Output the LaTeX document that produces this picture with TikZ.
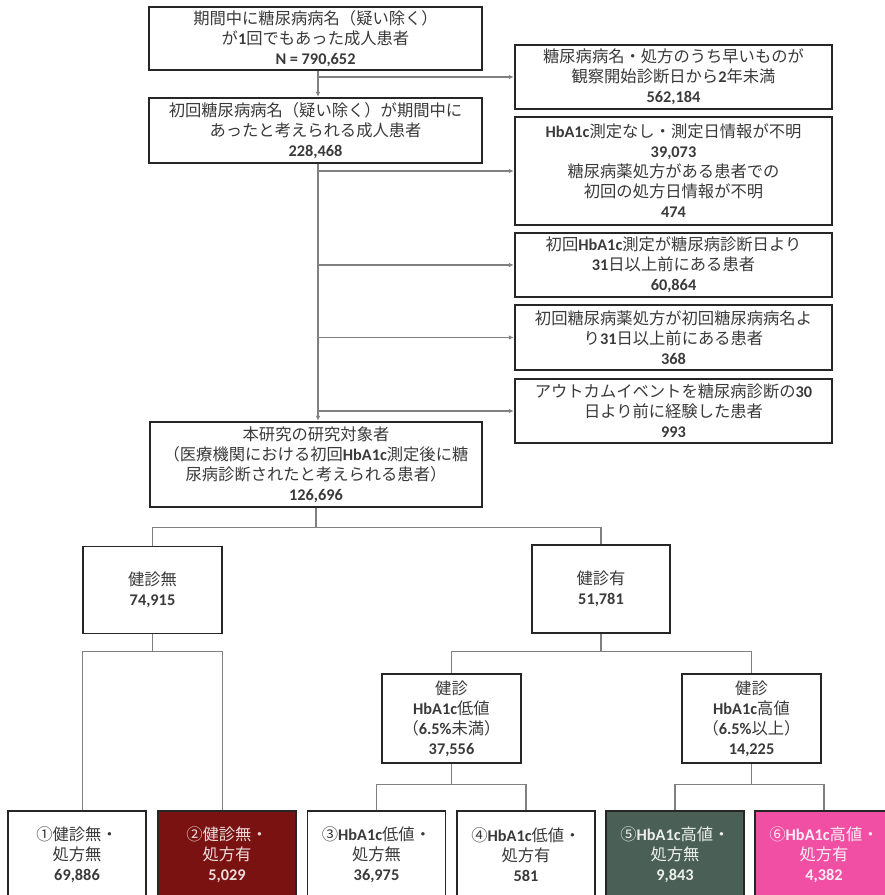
\documentclass[tikz,border=0pt]{standalone}
\usepackage{fontspec}
\setmainfont{Noto Sans CJK JP}
\newfontfamily\carl{Carlito}
\usetikzlibrary{arrows.meta}
\newcommand{\nm}[1]{{\carl\bfseries #1}}
\definecolor{txt}{HTML}{3A3A3A}
\definecolor{brd}{HTML}{262626}
\definecolor{conncol}{HTML}{808080}
\definecolor{maroon}{HTML}{7A1212}
\definecolor{slate}{HTML}{4A5F56}
\definecolor{hotpink}{HTML}{F04FA3}
\tikzset{
  box/.style={draw=brd, line width=1.3pt, rectangle, inner sep=0pt, align=center,
    text=txt, font=\fontsize{16.3}{20}\selectfont, fill=white},
  conn/.style={draw=conncol, line width=1.2pt},
  arr/.style={conn, -{Latex[length=5pt,width=4.5pt]}, shorten >=0.5pt},
}
\begin{document}
\begin{tikzpicture}[x=1pt,y=-1pt]
\useasboundingbox (0,0) rectangle (885,895);
\clip (0,0) rectangle (885,895);
\fill[white] (0,0) rectangle (885,895);
\coordinate (spine) at (318,0);

\node[box, minimum width=333, minimum height=63] (top) at (315.5,38.5)
  {期間中に糖尿病病名（疑い除く）\\が\nm{1}回でもあった成人患者\\\nm{N = 790,652}};
\node[box, minimum width=333, minimum height=65] (b2) at (315.5,130.5)
  {初回糖尿病病名（疑い除く）が期間中に\\あったと考えられる成人患者\\\nm{228,468}};
\node[box, minimum width=332, minimum height=85] (main) at (316,464.5)
  {本研究の研究対象者\\（医療機関における初回\nm{HbA1c}測定後に糖\\尿病診断されたと考えられる患者）\\\nm{126,696}};

\node[box, minimum width=317, minimum height=64] (r1) at (673.5,77)
  {糖尿病病名・処方のうち早いものが\\観察開始診断日から\nm{2}年未満\\\nm{562,184}};
\node[box, minimum width=317, minimum height=108] (r2) at (673.5,171)
  {\nm{HbA1c}測定なし・測定日情報が不明\\\nm{39,073}\\糖尿病薬処方がある患者での\\初回の処方日情報が不明\\\nm{474}};
\node[box, minimum width=317, minimum height=64] (r3) at (673.5,265)
  {初回\nm{HbA1c}測定が糖尿病診断日より\\\nm{31}日以上前にある患者\\\nm{60,864}};
\node[box, minimum width=317, minimum height=65] (r4) at (673.5,337.5)
  {初回糖尿病薬処方が初回糖尿病病名よ\\り\nm{31}日以上前にある患者\\\nm{368}};
\node[box, minimum width=317, minimum height=64] (r5) at (673.5,411)
  {アウトカムイベントを糖尿病診断の\nm{30}\\日より前に経験した患者\\\nm{993}};

\node[box, minimum width=139, minimum height=87] (kn) at (152.5,590) {健診無\\\nm{74,915}};
\node[box, minimum width=138, minimum height=88] (ky) at (601,589) {健診有\\\nm{51,781}};
\node[box, minimum width=139, minimum height=89] (lo) at (451.5,718.5)
  {健診\\\nm{HbA1c}低値\\（\nm{6.5\%}未満）\\\nm{37,556}};
\node[box, minimum width=139, minimum height=89] (hi) at (751.5,718.5)
  {健診\\\nm{HbA1c}高値\\（\nm{6.5\%}以上）\\\nm{14,225}};

\node[box, minimum width=138, minimum height=88] (o1) at (77,855) {①健診無・\\処方無\\\nm{69,886}};
\node[box, minimum width=138, minimum height=88, fill=maroon, text=white!85!maroon] (o2) at (227,855) {②健診無・\\処方有\\\nm{5,029}};
\node[box, minimum width=138, minimum height=88] (o3) at (376.5,855) {③\nm{HbA1c}低値・\\処方無\\\nm{36,975}};
\node[box, minimum width=138, minimum height=88] (o4) at (526,855) {④\nm{HbA1c}低値・\\処方有\\\nm{581}};
\node[box, minimum width=138, minimum height=88, fill=slate, text=white!90!slate] (o5) at (675,855) {⑤\nm{HbA1c}高値・\\処方無\\\nm{9,843}};
\node[box, minimum width=138, minimum height=88, fill=hotpink, text=white!90!hotpink] (o6) at (824,855) {⑥\nm{HbA1c}高値・\\処方有\\\nm{4,382}};

% main spine
\draw[arr] (top.south -| spine) -- (b2.north -| spine);
\draw[arr] (b2.south -| spine) -- (main.north -| spine);
\draw[arr] (spine |- r1.west) -- (r1.west);
\draw[arr] (spine |- r2.west) -- (r2.west);
\draw[arr] (spine |- r3.west) -- (r3.west);
\draw[arr] (spine |- r4.west) -- (r4.west);
\draw[arr] (spine |- r5.west) -- (r5.west);

% tree
\draw[conn] (main.south) -- ++(0,20) -| (kn.north);
\draw[conn] (main.south) -- ++(0,20) -| (ky.north);
\draw[conn] (kn.south) -- ++(0,17) -| (kn.west |- o1.north);
\draw[conn] (kn.south) -- ++(0,17) -| (kn.east |- o2.north);
\draw[conn] (ky.south) -- ++(0,18) -| (lo.north);
\draw[conn] (ky.south) -- ++(0,18) -| (hi.north);
\draw[conn] (lo.south) -- ++(0,21) -| (o3.north);
\draw[conn] (lo.south) -- ++(0,21) -| (o4.north);
\draw[conn] (hi.south) -- ++(0,21) -| (o5.north);
\draw[conn] (hi.south) -- ++(0,21) -| (o6.north);
\end{tikzpicture}
\end{document}
